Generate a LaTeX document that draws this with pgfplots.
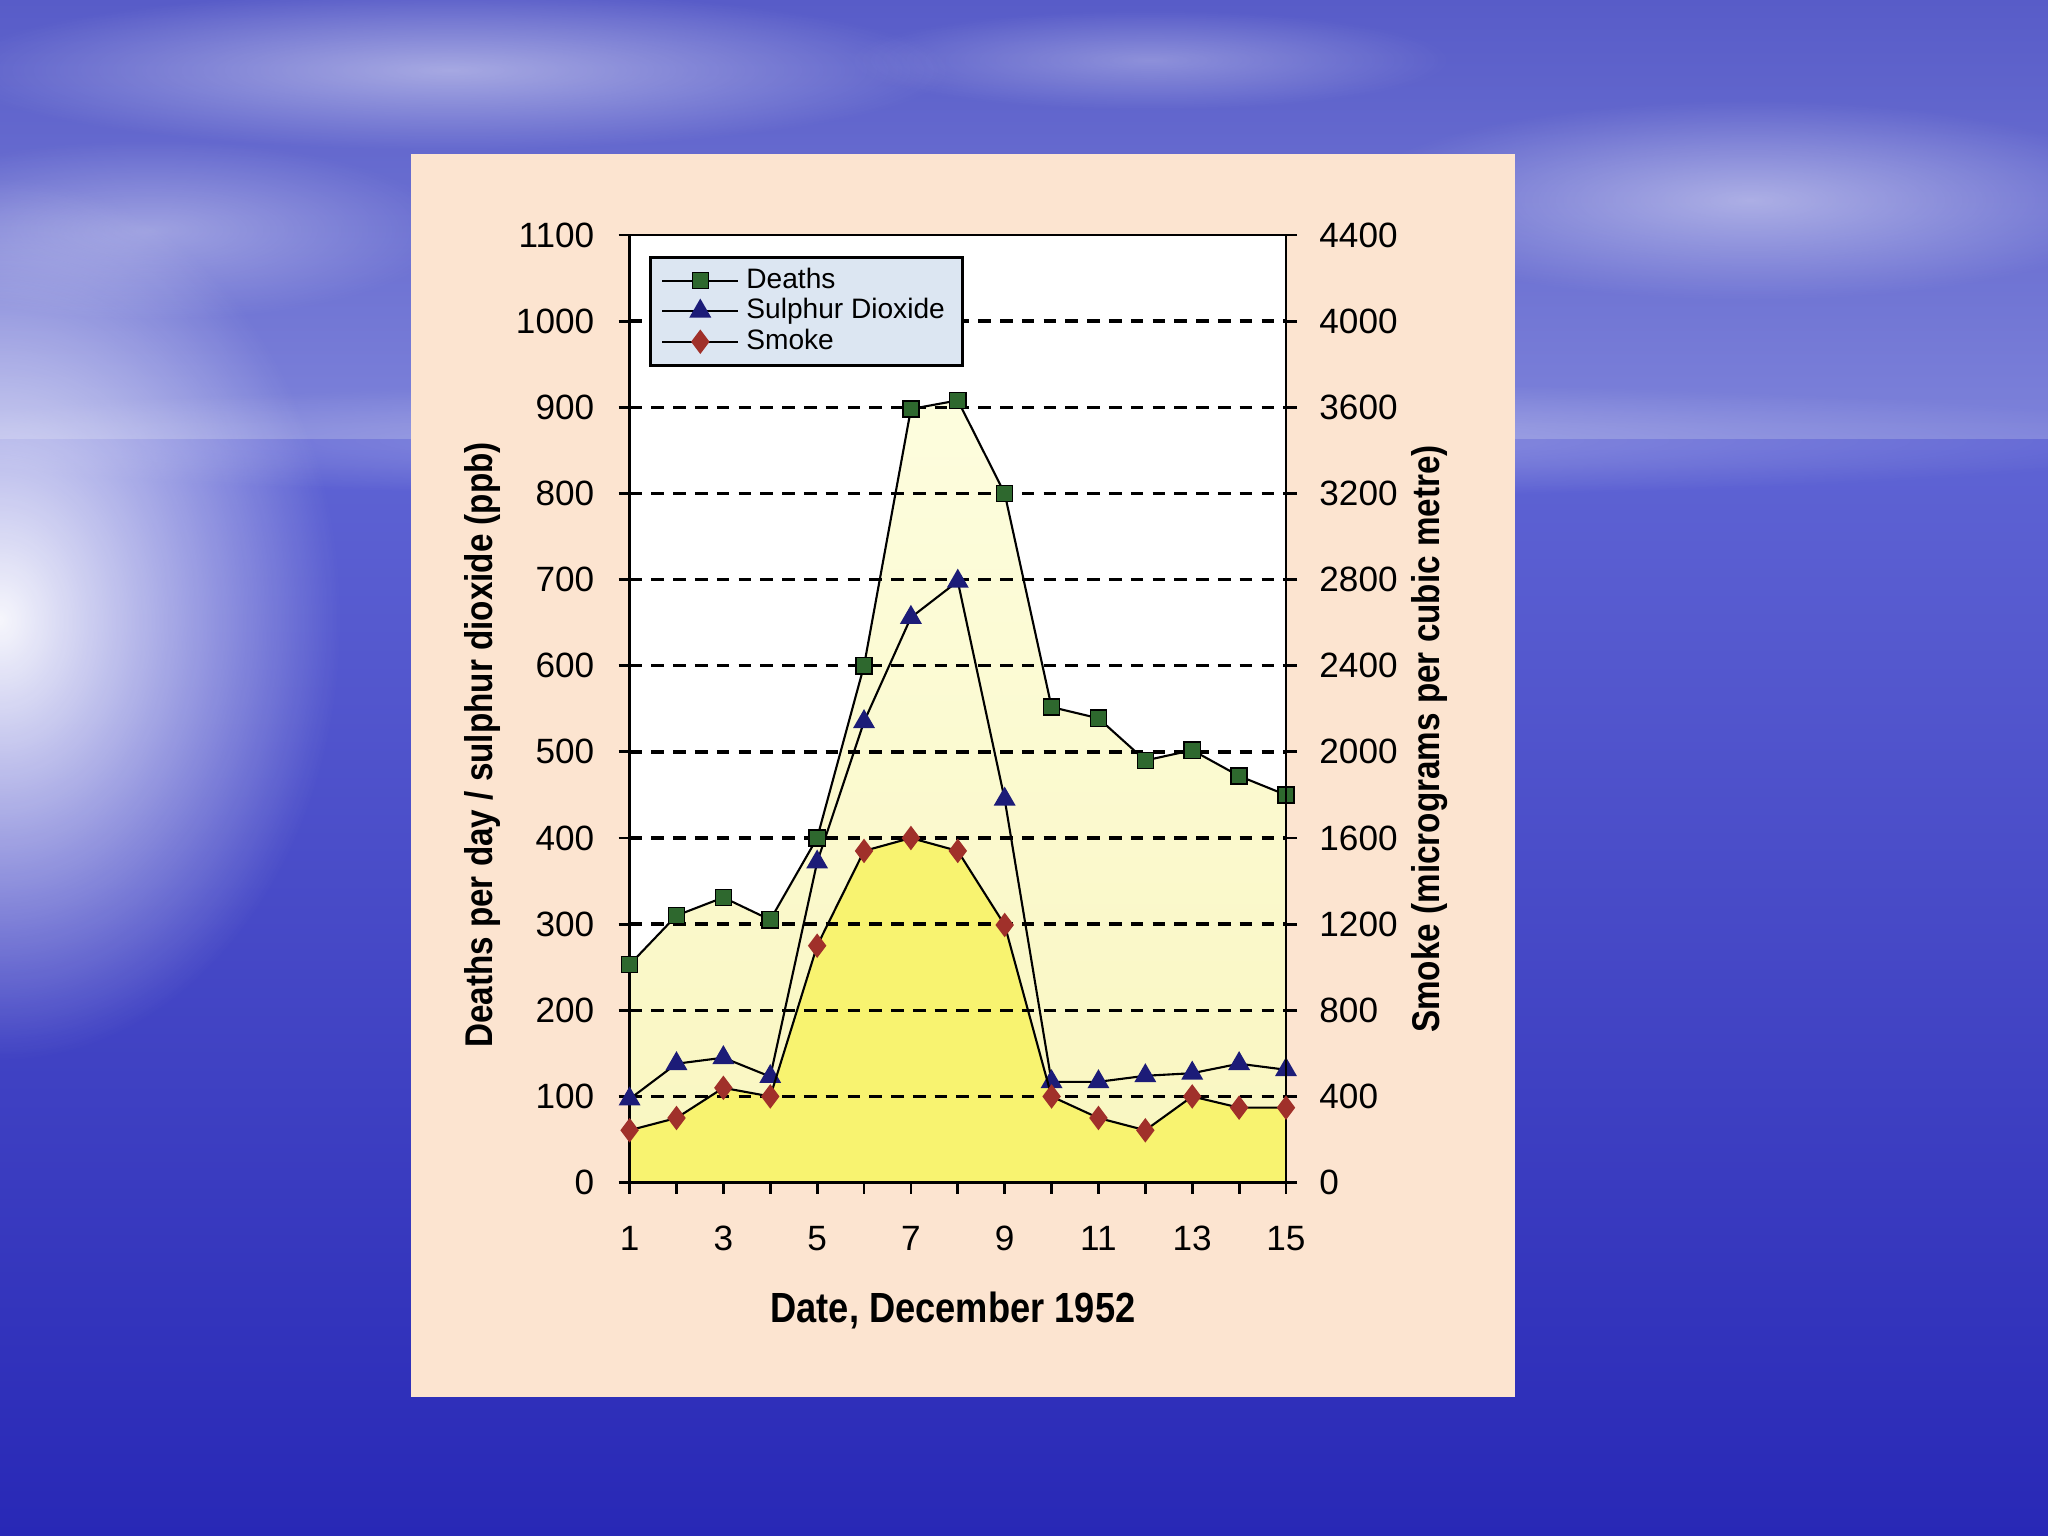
\documentclass[border=0pt]{standalone}
\usepackage{fontspec}
\setmainfont{Liberation Sans}
\newfontfamily\narrowfont[FakeStretch=0.86]{Liberation Sans}
\usepackage{pgfplots}
\pgfplotsset{compat=1.18}
\usepackage{pgfplotstable}
\usetikzlibrary{fadings}
\tikzfading[name=fade out, inner color=transparent!0, outer color=transparent!100]

\definecolor{skytop}{RGB}{88,92,200}
\definecolor{skylow}{RGB}{125,130,218}
\definecolor{seatop}{RGB}{95,100,212}
\definecolor{seabot}{RGB}{40,40,182}
\definecolor{peach}{RGB}{252,228,208}
\definecolor{paleyel}{RGB}{253,253,222}
\definecolor{paleyel2}{RGB}{249,246,192}
\definecolor{smokeyel}{RGB}{248,243,112}
\definecolor{legblue}{RGB}{220,230,242}
\definecolor{deathcol}{RGB}{46,104,46}
\definecolor{so2col}{RGB}{28,28,120}
\definecolor{smokecol}{RGB}{160,48,42}

% London smog, December 1952
\pgfplotstableread{
day deaths so2 smoke
1  253  97  243
2  310  138 300
3  331  145 440
4  305  123 400
5  400  372 1100
6  600  535 1540
7  898  656 1600
8  908  698 1540
9  800  445 1196
10 552  117 400
11 539  117 300
12 490  124 243
13 502  127 400
14 472  138 348
15 450  131 348
}\smog

\pgfplotsset{
  plotbox/.style={at={(6.296cm,-11.826cm)}, anchor=south west,
    scale only axis, width=6.564cm, height=9.476cm, xmin=1, xmax=15},
  ticklook/.style={tick align=outside, major tick length=0.11cm,
    axis line style={line width=0.8pt},
    tick style={line width=0.8pt, black},
    tick label style={font=\fontsize{10}{12}\selectfont},
    /pgf/number format/assume math mode=true,
    /pgf/number format/1000 sep={}},
}

\begin{document}
\begin{tikzpicture}
% slide background
\useasboundingbox (0,0) rectangle (20.48,-15.36);
\begin{scope}
\clip (0,0) rectangle (20.48,-15.36);
\shade[top color=skytop, bottom color=skylow] (0,0) rectangle (20.48,-4.4);
\shade[top color=seatop, bottom color=seabot] (0,-4.4) rectangle (20.48,-15.36);
\fill[white, opacity=0.35, path fading=fade out] (10.24,-4.4) ellipse (12 and 0.6);
\fill[white, opacity=0.95, path fading=fade out] (0,-6.2) ellipse (3.4 and 4.4);
\fill[white, opacity=0.45, path fading=fade out] (4.5,-0.7) ellipse (5 and 0.8);
\fill[white, opacity=0.35, path fading=fade out] (1.5,-2.3) ellipse (3 and 0.9);
\fill[white, opacity=0.45, path fading=fade out] (17.5,-2.0) ellipse (4 and 1.0);
\fill[white, opacity=0.30, path fading=fade out] (11.5,-0.6) ellipse (3 and 0.5);
\end{scope}
\fill[peach] (4.11,-1.54) rectangle (15.15,-13.97);
\fill[white] (6.296,-11.826) rectangle (12.86,-2.35);

% area fills, beneath the grid
\begin{axis}[plotbox, hide axis, ymin=0, ymax=1100]
\addplot[draw=none, top color=paleyel, bottom color=paleyel2]
  table[x=day, y=deaths] {\smog} \closedcycle;
\addplot[draw=none, fill=smokeyel]
  table[x=day, y expr=\thisrow{smoke}/4] {\smog} \closedcycle;
\end{axis}

\begin{axis}[plotbox, ticklook,
  ymin=0, ymax=1100,
  xtick={1,...,15},
  xticklabels={1,,3,,5,,7,,9,,11,,13,,15},
  ytick={0,100,...,1000},
  extra y ticks={1100},
  extra y tick style={grid=none},
  xtick pos=bottom, ytick pos=left,
  ymajorgrids,
  major grid style={black, line width=1pt, dash pattern=on 3.6pt off 2.6pt},
  yticklabel style={xshift=-0.12cm},
  xticklabel style={yshift=-0.2cm},
  legend style={at={(0.03,0.978)}, anchor=north west, fill=legblue, draw=black,
    line width=0.8pt, font=\fontsize{8}{8.5}\selectfont, row sep=-2.6pt,
    inner xsep=3pt, inner ysep=1pt},
  legend cell align=left,
  legend image code/.code={\draw[mark repeat=2,mark phase=2,#1]
    plot coordinates {(0cm,0cm) (0.38cm,0cm) (0.76cm,0cm)};},
]
\addplot[black, line width=0.6pt, mark=square*, mark size=2.3pt,
  mark options={fill=deathcol, draw=black, line width=0.4pt}]
  table[x=day, y=deaths] {\smog};
\addlegendentry{Deaths}
\addplot[black, line width=0.6pt, mark=triangle*, mark size=3pt,
  mark options={fill=so2col, draw=so2col}]
  table[x=day, y=so2] {\smog};
\addlegendentry{Sulphur Dioxide}
\addlegendimage{black, line width=0.6pt, mark=diamond*, mark size=3pt,
  mark options={fill=smokecol, draw=smokecol}}
\addlegendentry{Smoke}
\end{axis}

\begin{axis}[plotbox, ticklook,
  ymin=0, ymax=4400,
  axis x line=none, axis y line*=right,
  ytick={0,400,...,4400},
  axis line style={-},
  yticklabel style={xshift=0.1cm},
]
\addplot[black, line width=0.6pt, mark=diamond*, mark size=3pt,
  mark options={fill=smokecol, draw=smokecol}]
  table[x=day, y=smoke] {\smog};
\end{axis}

\node[rotate=90, font=\narrowfont\bfseries\fontsize{11}{13}\selectfont] at (4.83,-7.45)
  {Deaths per day / sulphur dioxide (ppb)};
\node[rotate=90, font=\narrowfont\bfseries\fontsize{11}{13}\selectfont] at (14.30,-7.39)
  {Smoke (micrograms per cubic metre)};
\node[font=\narrowfont\bfseries\fontsize{12}{14}\selectfont] at (9.53,-13.10)
  {Date, December 1952};
\end{tikzpicture}
\end{document}
